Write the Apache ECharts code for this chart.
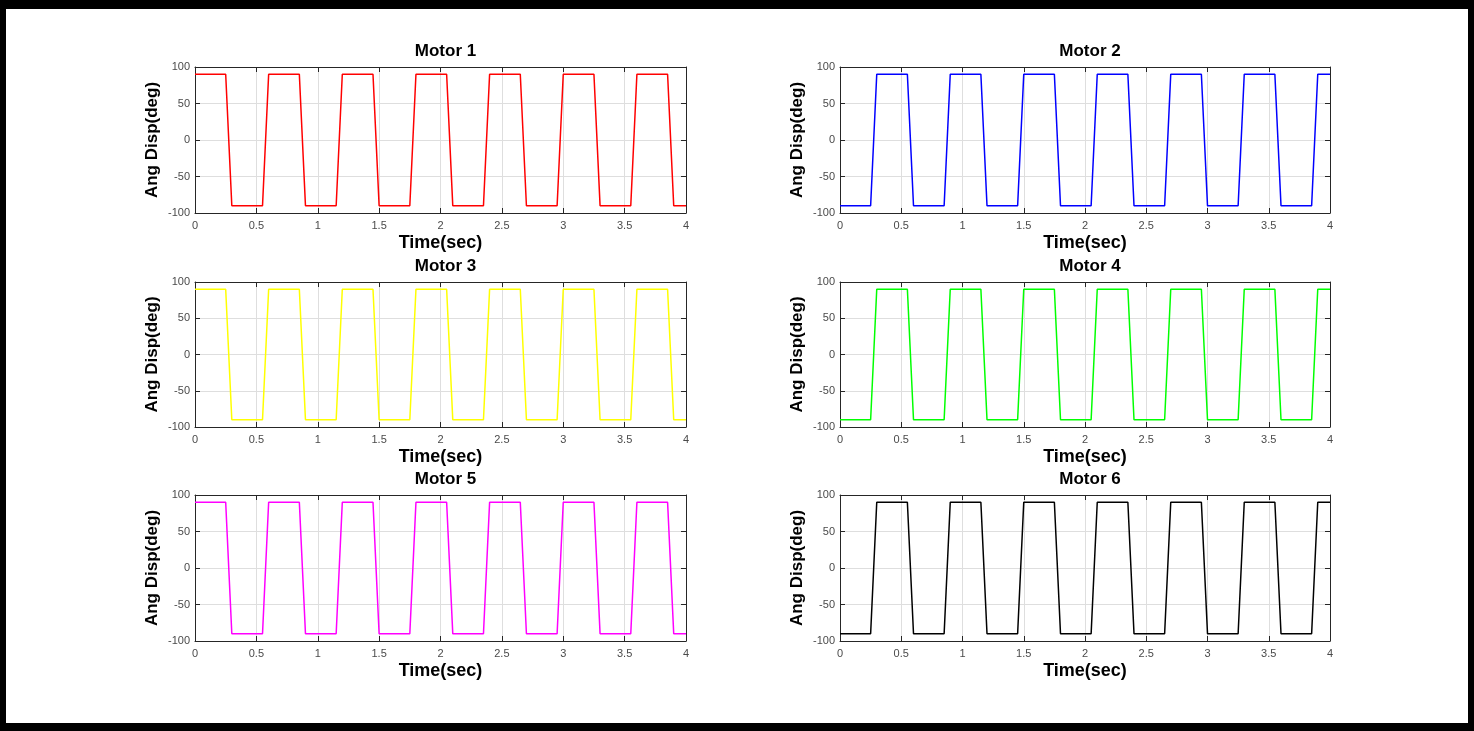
<!DOCTYPE html>
<html>
<head>
<meta charset="utf-8">
<script src="https://cdn.jsdelivr.net/npm/echarts@6/dist/echarts.min.js"></script>
<style>
  html, body { margin: 0; padding: 0; background: #000; }
  #chart { position: absolute; left: 6px; top: 9px; width: 1462px; height: 714px; background: #fff; }
</style>
</head>
<body>
<div id="chart"></div>
<script>
// time breakpoints of the trapezoid waves (sec)
const times = [0, 0.25, 0.3, 0.55, 0.6, 0.85, 0.9, 1.15, 1.2, 1.45, 1.5, 1.75, 1.8, 2.05,
    2.1, 2.35, 2.4, 2.65, 2.7, 2.95, 3.0, 3.25, 3.3, 3.55, 3.6, 3.85, 3.9, 4];

// angular displacement (deg) at each breakpoint
const motor1 = [90, 90, -90, -90, 90, 90, -90, -90, 90, 90, -90, -90, 90, 90,
    -90, -90, 90, 90, -90, -90, 90, 90, -90, -90, 90, 90, -90, -90];
const motor2 = [-90, -90, 90, 90, -90, -90, 90, 90, -90, -90, 90, 90, -90, -90,
    90, 90, -90, -90, 90, 90, -90, -90, 90, 90, -90, -90, 90, 90];
const motor3 = [90, 90, -90, -90, 90, 90, -90, -90, 90, 90, -90, -90, 90, 90,
    -90, -90, 90, 90, -90, -90, 90, 90, -90, -90, 90, 90, -90, -90];
const motor4 = [-90, -90, 90, 90, -90, -90, 90, 90, -90, -90, 90, 90, -90, -90,
    90, 90, -90, -90, 90, 90, -90, -90, 90, 90, -90, -90, 90, 90];
const motor5 = [90, 90, -90, -90, 90, 90, -90, -90, 90, 90, -90, -90, 90, 90,
    -90, -90, 90, 90, -90, -90, 90, 90, -90, -90, 90, 90, -90, -90];
const motor6 = [-90, -90, 90, 90, -90, -90, 90, 90, -90, -90, 90, 90, -90, -90,
    90, 90, -90, -90, 90, 90, -90, -90, 90, 90, -90, -90, 90, 90];

const titles = ['Motor 1', 'Motor 2', 'Motor 3', 'Motor 4', 'Motor 5', 'Motor 6'];
const motors = [motor1, motor2, motor3, motor4, motor5, motor6];
const colors = ['#ff0000', '#0000ff', '#ffff00', '#00ff00', '#ff00ff', '#000000'];

// plot boxes in page pixels, chart div sits at (6, 9)
const OX = 6, OY = 9;
const cols = [{left: 195, width: 491}, {left: 840, width: 490}];
const rows = [{top: 67, height: 146}, {top: 282, height: 145}, {top: 495, height: 146}];

const font = '"Liberation Sans", Arial, Helvetica, sans-serif';
const boxColor = '#262626';

let grid = [], xAxis = [], yAxis = [], series = [], title = [];

motors.forEach((vals, i) => {
    const c = cols[i % 2], r = rows[Math.floor(i / 2)];
    grid.push({
        left: c.left - OX, top: r.top - OY, width: c.width, height: r.height,
        show: false,
    });
    title.push({
        text: titles[i],
        left: c.left - OX + c.width / 2,
        top: r.top - OY - 29,
        textAlign: 'center',
        textStyle: {fontFamily: font, fontWeight: 'bold', fontSize: 17, color: '#000'},
    });
    // bottom and left axes with labels
    xAxis.push({
        gridIndex: i, type: 'value', min: 0, max: 4, interval: 0.5,
        name: 'Time(sec)', nameLocation: 'middle', nameGap: 21,
        nameTextStyle: {fontFamily: font, fontWeight: 'bold', fontSize: 18, color: '#000', verticalAlign: 'top'},
        axisLine: {onZero: false, lineStyle: {color: boxColor, width: 1}},
        axisTick: {inside: true, length: 5, lineStyle: {color: boxColor}},
        axisLabel: {fontFamily: font, fontSize: 11, color: '#4a4a4a', margin: 7},
        splitLine: {show: true, lineStyle: {color: '#dedede', width: 1}},
    });
    // top edge
    xAxis.push({
        gridIndex: i, type: 'value', min: 0, max: 4, interval: 0.5, position: 'top',
        axisLine: {show: true, onZero: false, lineStyle: {color: boxColor, width: 1}},
        axisTick: {inside: true, length: 5, lineStyle: {color: boxColor}},
        axisLabel: {show: false}, splitLine: {show: false},
    });
    yAxis.push({
        gridIndex: i, type: 'value', min: -100, max: 100, interval: 50,
        name: 'Ang Disp(deg)', nameLocation: 'middle', nameGap: 34, nameRotate: 90,
        nameTextStyle: {fontFamily: font, fontWeight: 'bold', fontSize: 17, color: '#000'},
        axisLine: {show: true, onZero: false, lineStyle: {color: boxColor, width: 1}},
        axisTick: {show: true, inside: true, length: 5, lineStyle: {color: boxColor}},
        axisLabel: {fontFamily: font, fontSize: 11, color: '#4a4a4a', margin: 5},
        splitLine: {show: true, lineStyle: {color: '#dedede', width: 1}},
    });
    // right edge
    yAxis.push({
        gridIndex: i, type: 'value', min: -100, max: 100, interval: 50, position: 'right',
        axisLine: {show: true, onZero: false, lineStyle: {color: boxColor, width: 1}},
        axisTick: {show: true, inside: true, length: 5, lineStyle: {color: boxColor}},
        axisLabel: {show: false}, splitLine: {show: false},
    });
    series.push({
        type: 'line', xAxisIndex: i * 2, yAxisIndex: i * 2,
        data: times.map((t, k) => [t, vals[k]]),
        showSymbol: false, symbol: 'none',
        lineStyle: {color: colors[i], width: 1.5},
        z: 3,
    });
});

const chart = echarts.init(document.getElementById('chart'));
chart.setOption({
    backgroundColor: '#fff',
    animation: false,
    title: title,
    grid: grid,
    xAxis: xAxis,
    yAxis: yAxis,
    series: series,
});
</script>
</body>
</html>
